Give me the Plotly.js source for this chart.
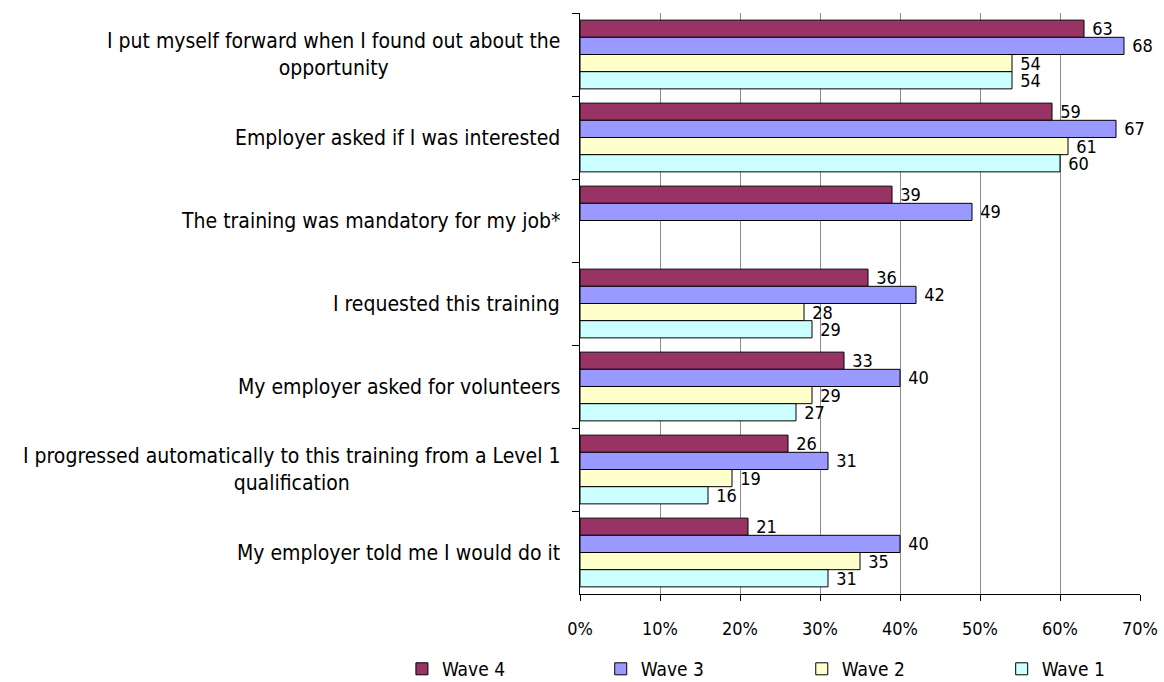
<!DOCTYPE html>
<html>
<head>
<meta charset="utf-8">
<script src="https://cdn.plot.ly/plotly-3.0.1.min.js"></script>
<style>html,body{margin:0;padding:0;background:#fff;}#chart{width:1164px;height:682px;}</style>
</head>
<body>
<div id="chart"></div>
<script>
const categories = [
  "I put myself forward when I found out about the<br>opportunity",
  "Employer asked if I was interested",
  "The training was mandatory for my job*",
  "I requested this training",
  "My employer asked for volunteers",
  "I progressed automatically to this training from a Level 1<br>qualification",
  "My employer told me I would do it"
];
const seriesNames = ["Wave 4", "Wave 3", "Wave 2", "Wave 1"];
const wave4 = [63, 59, 39, 36, 33, 26, 21];
const wave3 = [68, 67, 49, 42, 40, 31, 40];
const wave2 = [54, 61, null, 28, 29, 19, 35];
const wave1 = [54, 60, null, 29, 27, 16, 31];
const colors = ["#993366", "#9999FF", "#FFFFCC", "#CCFFFF"];
const xTickVals = [0, 10, 20, 30, 40, 50, 60, 70];
const xTickText = ["0%", "10%", "20%", "30%", "40%", "50%", "60%", "70%"];

const FONT = "DejaVu Sans Condensed, DejaVu Sans, sans-serif";
const allSeries = [wave4, wave3, wave2, wave1];
const legendIds = ["legend", "legend2", "legend3", "legend4"];
const legendX = [-0.318, 0.037, 0.396, 0.753];

const traces = allSeries.map((vals, i) => ({
  type: "bar",
  orientation: "h",
  name: seriesNames[i],
  legend: legendIds[i],
  y: categories,
  x: vals,
  text: vals.map(v => v == null ? "" : "\u00a0" + v),
  textposition: "outside",
  constraintext: "none",
  textfont: {family: FONT, size: 18, color: "#000"},
  cliponaxis: false,
  marker: {color: colors[i], line: {color: "#000", width: 1}},
  hoverinfo: "x+name"
}));

const annotations = categories.map(c => ({
  xref: "paper", yref: "y", x: 0, y: c,
  xanchor: "right", yanchor: "middle", align: "center",
  xshift: -18,
  text: c, showarrow: false,
  font: {family: FONT, size: 21, color: "#000"}
}));

const layout = {
  width: 1164, height: 682,
  margin: {l: 580, r: 24, t: 13, b: 88, autoexpand: false},
  paper_bgcolor: "#fff", plot_bgcolor: "#fff",
  barmode: "group",
  bargap: 0.172, bargroupgap: 0,
  font: {family: FONT, size: 18, color: "#000"},
  showlegend: true,
  xaxis: {
    range: [0, 70], tickvals: xTickVals, ticktext: xTickText,
    showgrid: true, gridcolor: "#8c8c8c", gridwidth: 1,
    showline: true, linecolor: "#000", linewidth: 1,
    ticks: "outside", ticklen: 6, tickcolor: "#000",
    ticklabelstandoff: 12,
    zeroline: false, fixedrange: true,
    tickfont: {family: FONT, size: 18, color: "#000"}
  },
  yaxis: {
    type: "category", autorange: "reversed",
    showticklabels: false,
    showline: true, linecolor: "#000", linewidth: 1,
    ticks: "outside", ticklen: 7, tickcolor: "#000",
    tickson: "boundaries", showgrid: false, fixedrange: true
  },
  annotations: annotations
};
legendIds.forEach((id, i) => {
  layout[id] = {
    orientation: "h", x: legendX[i], xanchor: "left",
    y: -0.129, yanchor: "middle",
    bgcolor: "rgba(0,0,0,0)", borderwidth: 0,
    font: {family: FONT, size: 19, color: "#000"}
  };
});

Plotly.newPlot("chart", traces, layout, {displayModeBar: false, staticPlot: true});
</script>
</body>
</html>
